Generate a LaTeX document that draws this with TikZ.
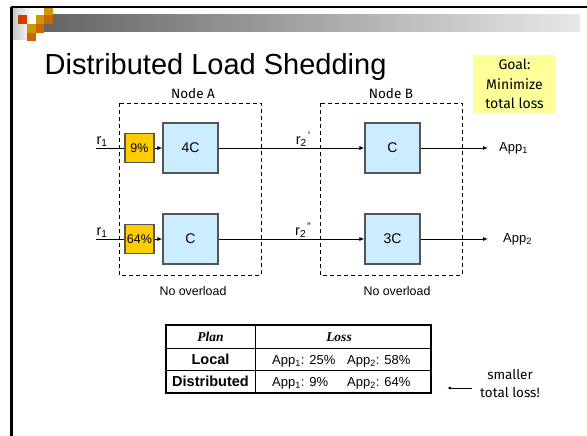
\documentclass[tikz,border=0pt]{standalone}
\usepackage{fontspec}
\setmainfont{Liberation Sans}
\newfontfamily\comicf{Fira Sans}
\newfontfamily\serf{Liberation Serif}
\usetikzlibrary{arrows.meta}
\definecolor{sqred}{RGB}{212,58,0}
\definecolor{sqgold}{RGB}{204,153,0}
\definecolor{sqorange}{RGB}{204,102,0}
\definecolor{barleft}{RGB}{100,100,100}
\definecolor{barright}{RGB}{232,232,232}
\definecolor{boxblue}{RGB}{204,236,255}
\definecolor{pctyellow}{RGB}{255,204,0}
\definecolor{goalyellow}{RGB}{255,255,153}
\definecolor{boxedge}{RGB}{85,85,85}
\tikzset{
  opbox/.style={draw=boxedge, line width=1.1pt, fill=boxblue, minimum width=55pt, minimum height=50pt, inner sep=0pt, font=\fontsize{14}{14}\selectfont},
  pctbox/.style={draw=boxedge, line width=1.1pt, fill=pctyellow, minimum width=29pt, minimum height=29pt, inner sep=0pt, font=\fontsize{12.5}{12.5}\selectfont},
  nodearea/.style={draw, dash pattern=on 4pt off 3pt, line width=0.9pt},
  conn/.style={line width=0.9pt},
  arr/.style={line width=0.9pt, -{Latex[length=5pt,width=4pt]}},
  lbl/.style={font=\fontsize{13}{13}\selectfont, inner sep=0pt},
  rlbl/.style={font=\fontsize{14.5}{14.5}\selectfont, inner sep=0pt},
  handlbl/.style={font=\comicf\fontsize{13.5}{13.5}\selectfont, inner sep=0pt},
  cell/.style={inner sep=0pt, font=\fontsize{13}{13}\selectfont}
}
\begin{document}
\begin{tikzpicture}[x=1pt,y=-1pt]
\useasboundingbox (0,0) rectangle (587,436);
\fill[white] (0,0) rectangle (587,436);
% header decoration
\shade[left color=gray!45, right color=white] (12,8) rectangle (32,40);
\shade[left color=barleft, right color=barright] (44,15) rectangle (580,32);
\fill[sqgold] (44,8) rectangle (53,15);
\fill[sqred] (18,15) rectangle (27,24);
\fill[sqgold] (36,15) rectangle (44,24);
\fill[sqorange] (44,15) rectangle (53,24);
\fill[sqgold] (27,24) rectangle (36,33);
\fill[sqorange] (36,24) rectangle (44,33);
\fill[sqorange] (27,33) rectangle (36,41);
\draw[line width=2.5pt] (11,7) -- (587,7);
\draw[line width=3pt] (11,7) -- (11,436);
% title
\node[anchor=base west, inner sep=0pt, font=\fontsize{29}{29}\selectfont] (title) at (44.5,75) {Distributed Load Shedding};
% goal note
\node[fill=goalyellow, minimum width=83pt, minimum height=58pt, align=center, inner sep=0pt, font=\comicf\fontsize{14}{19.5}\selectfont] (goal) at (514.5,84) {Goal:\\Minimize\\total loss};
% node areas
\draw[nodearea] (119,103) rectangle (261,275);
\draw[nodearea] (320,103) rectangle (462,275);
\node[handlbl] (nodeA) at (193,94) {Node A};
\node[handlbl] (nodeB) at (391,94) {Node B};
\node[lbl, font=\fontsize{12.4}{12.4}\selectfont] (noA) at (193,291) {No overload};
\node[lbl, font=\fontsize{12.4}{12.4}\selectfont] (noB) at (397,291) {No overload};
% top row
\coordinate (in1) at (96,148);
\node[pctbox] (p1) at (139.5,148) {9\%};
\node[opbox] (a1) at (190.5,148) {4C};
\node[opbox] (b1) at (392.5,148) {C};
\coordinate (out1) at (488,148);
\node[lbl, anchor=west] (app1) at (499,148) {App\textsubscript{1}};
\draw[conn] (in1) -- (p1);
\draw[arr] (p1) -- (a1);
\draw[arr] (a1) -- (b1);
\draw[arr] (b1) -- (out1);
\node[rlbl, anchor=base] (r1a) at (102,144) {r\textsubscript{1}};
\node[rlbl, anchor=base] (r2a) at (303,144) {r\textsubscript{2}\hspace{1pt}\raisebox{5pt}{\fontsize{11}{11}\selectfont '}};
% bottom row
\coordinate (in2) at (96,239);
\node[pctbox] (p2) at (139.5,239) {64\%};
\node[opbox] (a2) at (190.5,239) {C};
\node[opbox] (b2) at (392.5,239) {3C};
\coordinate (out2) at (488,239);
\node[lbl, anchor=west] (app2) at (503,239) {App\textsubscript{2}};
\draw[conn] (in2) -- (p2);
\draw[arr] (p2) -- (a2);
\draw[arr] (a2) -- (b2);
\draw[arr] (b2) -- (out2);
\node[rlbl, anchor=base] (r1b) at (102,235) {r\textsubscript{1}};
\node[rlbl, anchor=base] (r2b) at (303,235) {r\textsubscript{2}\hspace{1pt}\raisebox{5pt}{\fontsize{11}{11}\selectfont ''}};
% table
\draw[line width=0.8pt] (166,348) -- (431,348);
\draw[line width=0.8pt] (166,370) -- (431,370);
\draw[line width=0.8pt] (255,325) -- (255,393);
\draw[line width=1.6pt] (166,325) rectangle (431,393);
\node[cell, font=\serf\bfseries\itshape\fontsize{13.5}{13.5}\selectfont] (hplan) at (210.5,337) {Plan};
\node[cell, font=\serf\bfseries\itshape\fontsize{13.5}{13.5}\selectfont] (hloss) at (339,337) {Loss};
\node[cell, font=\bfseries\fontsize{14.5}{14.5}\selectfont] (local) at (210.5,359) {Local};
\node[cell, font=\bfseries\fontsize{14.5}{14.5}\selectfont] (dist) at (210.5,381.5) {Distributed};
\node[cell, anchor=base west] (l1) at (272,364) {App\textsubscript{1}: 25\%};
\node[cell, anchor=base west] (l2) at (347,364) {App\textsubscript{2}: 58\%};
\node[cell, anchor=base west] (d1) at (272,386.5) {App\textsubscript{1}: 9\%};
\node[cell, anchor=base west] (d2) at (347,386.5) {App\textsubscript{2}: 64\%};
% note
\node[handlbl, align=center, font=\comicf\fontsize{13.5}{18}\selectfont] (smaller) at (510,384) {smaller\\total loss!};
\coordinate (arrS) at (472,388);
\coordinate (arrE) at (447,388);
\draw[line width=0.8pt, -{Latex[length=4pt,width=3pt]}] (arrS) -- (arrE);
\end{tikzpicture}
\end{document}
